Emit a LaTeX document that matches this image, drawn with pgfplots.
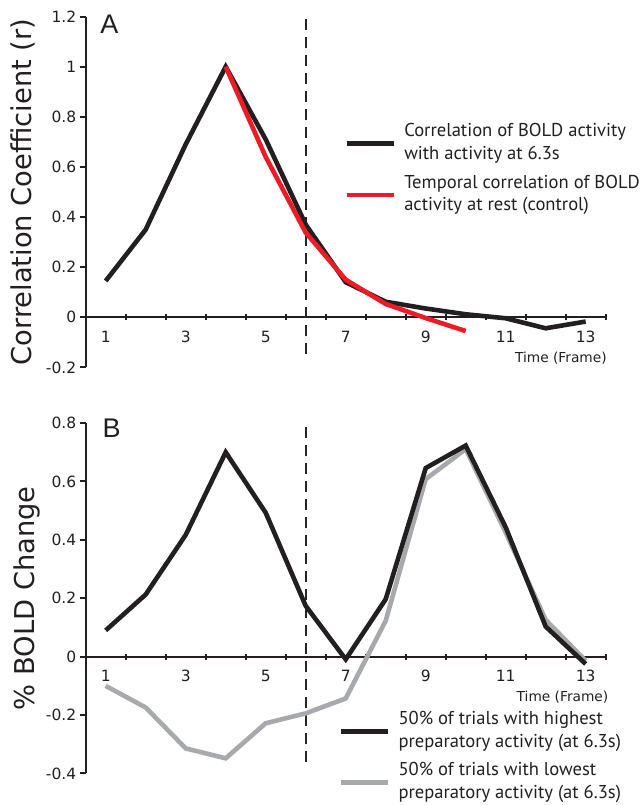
\documentclass[border=0pt]{standalone}
\usepackage{fontspec}
\setmainfont{DejaVu Sans}
\newfontfamily\legfont{PT Sans}
\newfontfamily\panfont{Liberation Sans}
\usepackage{pgfplots}
\pgfplotsset{compat=1.18}

\definecolor{blk}{HTML}{231F20}
\definecolor{redl}{HTML}{ED1C24}
\definecolor{gryl}{HTML}{A7A9AC}
\definecolor{dashc}{HTML}{262626}

\pgfplotsset{
  panel/.style={
    scale only axis, width=520pt,
    xmin=0.5, xmax=13.5,
    axis x line=middle, axis y line=left,
    axis line style={-, line width=2.3pt, blk},
    hide obscured x ticks=false, hide obscured y ticks=false,
    tick style={line width=2pt, blk},
    major tick length=6pt,
    ytick align=outside, xtick align=center,
    xtick={1.5,2.5,...,13.5}, xticklabels={},
    extra x ticks={1,3,5,7,9,11,13},
    extra x tick labels={1,3,5,7,9,11,13},
    extra x tick style={major tick length=0pt},
    x tick label style={font=\fontsize{15.5}{18}\selectfont, text=blk, yshift=-10pt},
    y tick label style={font=\fontsize{15.5}{18}\selectfont, text=blk},
    ylabel style={font=\fontsize{27.3}{32}\selectfont, text=blk, anchor=base},
    clip=false,
    legend cell align=left,
    legend style={draw=none, fill=none, anchor=north west, inner sep=0pt,
      outer sep=0pt, nodes={inner sep=0pt, text depth=}, row sep=6.2pt, column sep=8pt,
      text=blk, font=\legfont\fontsize{18.6}{22.6}\selectfont},
    legend image code/.code={\draw[#1] (0pt,0pt) -- (47pt,0pt);},
  }
}

\begin{document}
\begin{tikzpicture}
\useasboundingbox (0,0) rectangle (640pt,805pt);

% panel A
\begin{axis}[panel, at={(85.7pt,437.6pt)}, anchor=south west, height=350.8pt,
  ymin=-0.2, ymax=1.2,
  ytick={-0.2,0,0.2,0.4,0.6,0.8,1,1.2},
  yticklabels={-0.2,0,0.2,0.4,0.6,0.8,1,1.2},
  ylabel={Correlation Coefficient (r)},
  ylabel style={at={(axis description cs:-0.1033,0.5)}},
  legend style={at={(0.498,0.702)}}]
\addplot[dashc, line width=2.4pt, dash pattern=on 11pt off 7pt, forget plot]
  coordinates {(6,1.19) (6,-0.17)};
\addplot[blk, line width=4.6pt] coordinates {
  (1,0.145) (2,0.35) (3,0.69) (4,1.0) (5,0.71) (6,0.37) (7,0.14)
  (8,0.062) (9,0.035) (10,0.012) (11,-0.004) (12,-0.044) (13,-0.017)};
\addlegendentry{\begin{tabular}{@{}l@{}}Correlation of BOLD activity\\with activity at 6.3s\end{tabular}}
\addplot[redl, line width=4.6pt] coordinates {
  (4,1.0) (5,0.64) (6,0.338) (7,0.15) (8,0.053) (9,-0.003) (10,-0.055)};
\addlegendentry{\begin{tabular}{@{}l@{}}Temporal correlation of BOLD\\activity at rest (control)\end{tabular}}
\node[anchor=base west, inner sep=0pt, text=blk, font=\panfont\fontsize{27}{30}\selectfont]
  at (axis cs:0.86,1.134) {A};
\node[anchor=base east, inner sep=0pt, text=blk, font=\fontsize{13.75}{16}\selectfont]
  at (axis cs:13.53,-0.181) {Time (Frame)};
\end{axis}

% panel B
\begin{axis}[panel, at={(85.7pt,31.5pt)}, anchor=south west, height=350.4pt,
  ymin=-0.4, ymax=0.8,
  ytick={-0.4,-0.2,0,0.2,0.4,0.6,0.8},
  yticklabels={-0.4,-0.2,0,0.2,0.4,0.6,0.8},
  ylabel={\% BOLD Change},
  ylabel style={at={(axis description cs:-0.0975,0.5)}},
  reverse legend,
  legend style={at={(0.487,0.185)}}]
\addplot[dashc, line width=2.4pt, dash pattern=on 11pt off 7pt, forget plot]
  coordinates {(6,0.787) (6,-0.372)};
\addplot[gryl, line width=4.6pt] coordinates {
  (1,-0.10) (2,-0.174) (3,-0.314) (4,-0.348) (5,-0.228) (6,-0.194) (7,-0.143)
  (8,0.123) (9,0.608) (10,0.711) (11,0.425) (12,0.126) (13,-0.014)};
\addlegendentry{\begin{tabular}{@{}l@{}}50\% of trials with lowest\\preparatory activity (at 6.3s)\end{tabular}}
\addplot[blk, line width=4.6pt] coordinates {
  (1,0.09) (2,0.213) (3,0.417) (4,0.70) (5,0.493) (6,0.174) (7,-0.009)
  (8,0.197) (9,0.646) (10,0.723) (11,0.443) (12,0.103) (13,-0.025)};
\addlegendentry{\begin{tabular}{@{}l@{}}50\% of trials with highest\\preparatory activity (at 6.3s)\end{tabular}}
\node[anchor=base west, inner sep=0pt, text=blk, font=\panfont\fontsize{27}{30}\selectfont]
  at (axis cs:0.92,0.751) {B};
\node[anchor=base east, inner sep=0pt, text=blk, font=\fontsize{13.75}{16}\selectfont]
  at (axis cs:13.57,-0.154) {Time (Frame)};
\end{axis}
\end{tikzpicture}
\end{document}
